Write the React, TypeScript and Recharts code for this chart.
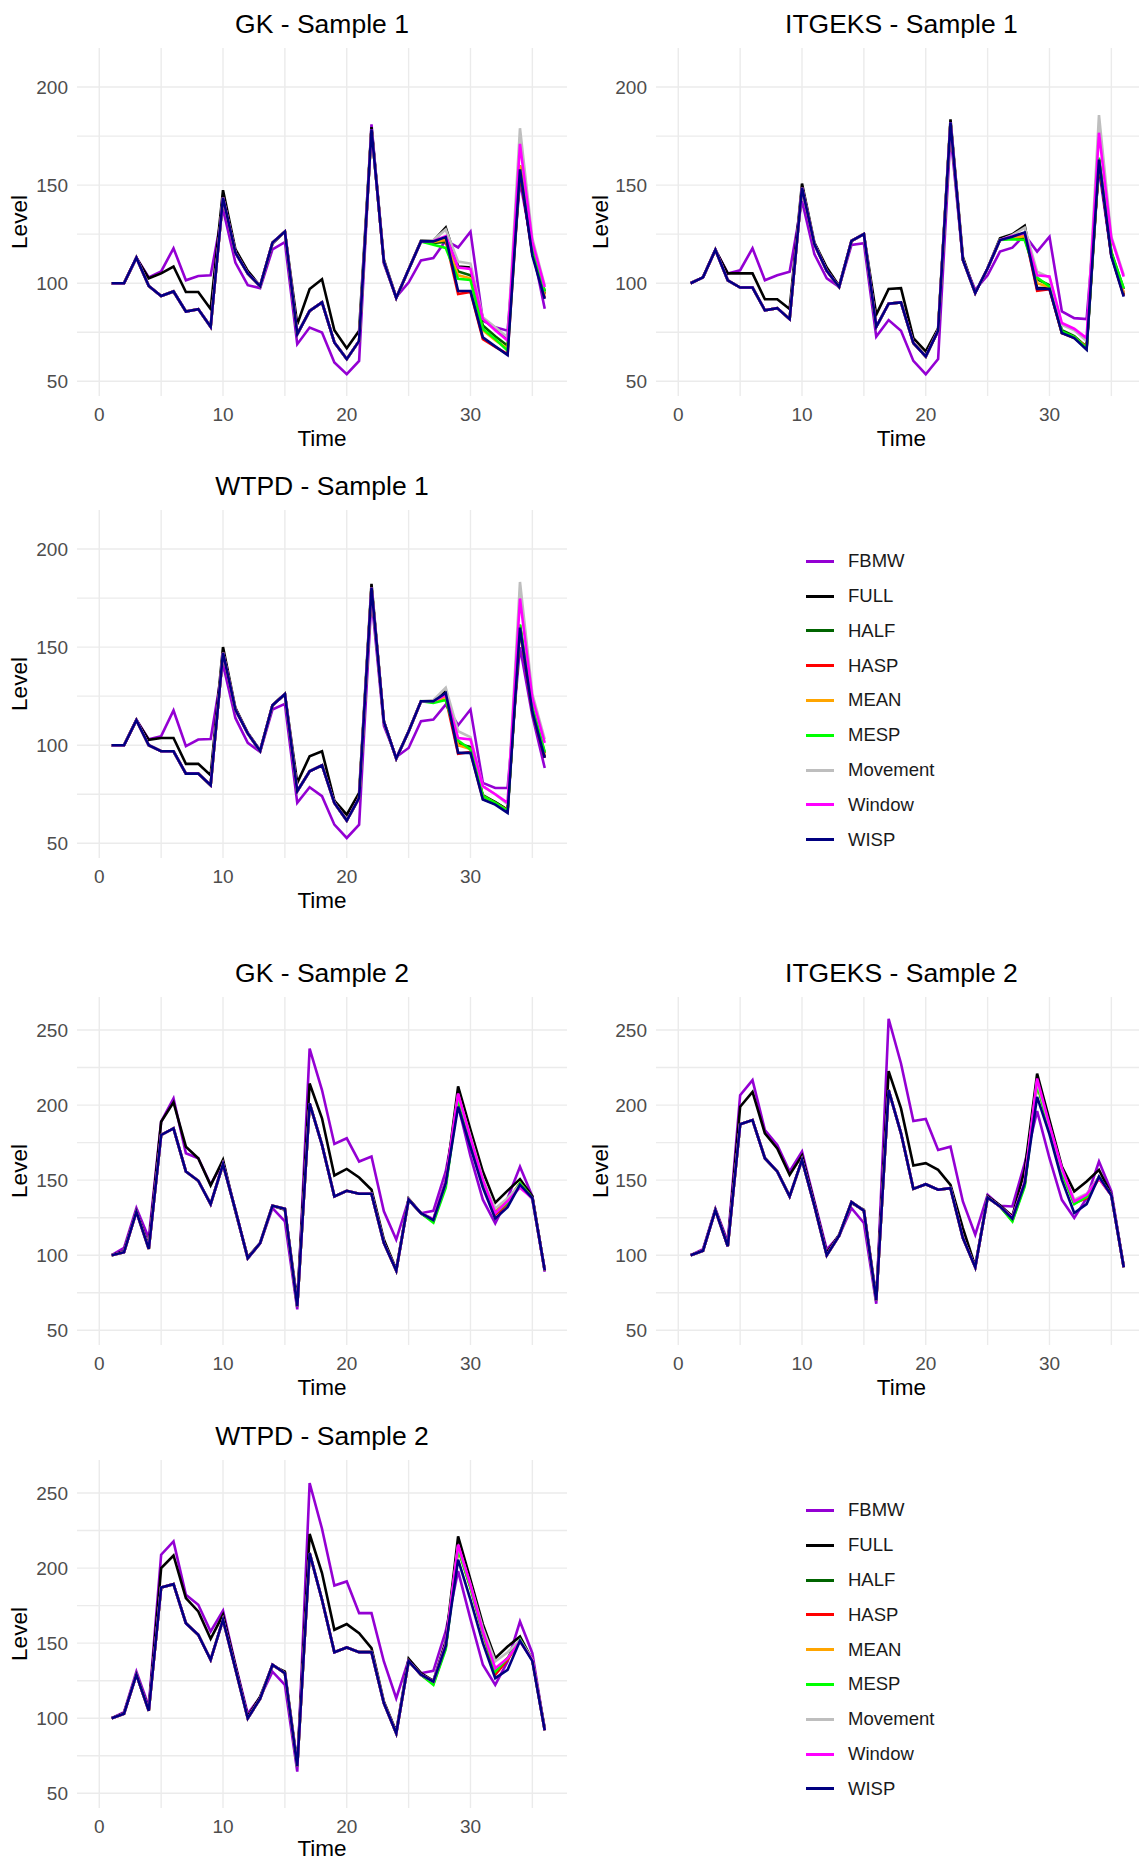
import React from 'react';
import { LineChart, Line, XAxis, YAxis, CartesianGrid } from 'recharts';

// time index shared by every panel
const time = [1, 2, 3, 4, 5, 6, 7, 8, 9, 10, 11, 12, 13, 14, 15, 16, 17, 18, 19, 20, 21, 22, 23, 24, 25, 26, 27, 28, 29, 30, 31, 32, 33, 34, 35, 36];

const seriesNames = ['FBMW', 'FULL', 'HALF', 'HASP', 'MEAN', 'MESP', 'Movement', 'Window', 'WISP'];
const seriesColors = ['#9400D3', '#000000', '#006400', '#FF0000', '#FFA500', '#00FF00', '#BEBEBE', '#FF00FF', '#000080'];

const xGridValues = [0, 5, 10, 15, 20, 25, 30, 35];
const xTickValues = [0, 10, 20, 30];
const s1Ticks = [50, 100, 150, 200];
const s1Grid = [50, 75, 100, 125, 150, 175, 200];
const s2Ticks = [50, 100, 150, 200, 250];
const s2Grid = [50, 75, 100, 125, 150, 175, 200, 225, 250];

// ---- GK - Sample 1 ----
const gk1Fbmw = [100, 100, 113, 103, 106, 117.8, 101.5, 103.7, 104, 137.7, 110.5, 99, 97.5, 117.3, 121, 68.9, 77.4, 74.9, 59.6, 53.6, 60.4, 181, 110, 93, 100.3, 111.6, 112.8, 121.8, 118.2, 126.3, 81, 77.5, 75.8, 152, 118, 87];
const gk1Full = [100, 100, 113, 102.5, 105, 108.5, 95.5, 95.5, 86.8, 147.4, 117.3, 106.3, 98.6, 120.2, 126.3, 79, 97, 102, 76, 66.9, 75.7, 179.6, 112, 92.7, 107, 121.6, 121.6, 128.4, 108.5, 108, 81.8, 76.5, 72, 157, 115, 94.5];
const gk1Head = [100, 100, 113, 98.6, 93.5, 95.8, 85.6, 86.8, 77.8, 143.6, 115.6, 105, 98.5, 120.7, 126.3, 74, 85.9, 90.2, 69.8, 61.3, 70.6, 178.4, 111, 92.5, 107, 121.3];
const gk1WispTail = [121.3, 123.5, 96, 96, 72.4, 67.8, 63.4, 158, 114, 92];
const gk1HalfTail = [120.5, 121, 106, 104, 78.4, 73, 68.1, 160, 118, 96];
const gk1HaspTail = [121.3, 122, 94.5, 95.5, 71.5, 67.5, 63.9, 157, 115, 92.5];
const gk1MeanTail = [121, 122, 104, 102.5, 76, 71, 66.5, 160, 116, 94];
const gk1MespTail = [119.6, 118, 102.2, 101.7, 76.7, 71.5, 65.6, 158, 117.5, 95.7];
const gk1MoveTail = [122, 127.4, 111, 110, 82.6, 77.5, 72.4, 179, 122.7, 98.8];
const gk1WindowTail = [121.5, 124, 108, 107.3, 81.8, 76, 70.7, 171, 121, 98];

// ---- ITGEKS - Sample 1 ----
const it1Fbmw = [100, 103, 117, 105, 106.6, 117.8, 101.5, 104, 105.8, 141.9, 114.8, 102.5, 98.1, 119.5, 120.4, 72.8, 81.2, 75.7, 60.4, 53.6, 61.3, 176, 112, 96.6, 104, 116.1, 118.1, 124.6, 116.1, 123.7, 85.6, 82.2, 81.7, 158, 114, 95];
const it1Full = [100, 103, 117, 105, 105, 105, 91.8, 91.8, 86.8, 150.8, 120.7, 108, 98.6, 121.6, 125, 84, 97.1, 97.5, 72, 65.3, 77, 183.5, 113.4, 95, 107.6, 122.9, 124.9, 129.3, 97.5, 97.5, 74.6, 72.7, 66.4, 161.5, 114.4, 94];
const it1Head = [100, 103, 117, 101.5, 97.8, 97.8, 86.2, 87.3, 81.7, 148.7, 119.9, 106.3, 98.1, 121.6, 125, 77.8, 89.6, 90.2, 69.5, 62.7, 75.8, 182, 112, 95, 107.6, 122];
const it1WispTail = [123.7, 125.9, 97.1, 97.1, 74.6, 72, 66.1, 163, 113.6, 93.2];
const it1HalfTail = [123, 123, 102, 99, 76, 73, 67.5, 163, 116, 97];
const it1HaspTail = [123.7, 125.5, 96.1, 97, 74.6, 72, 67.8, 163, 114, 93.5];
const it1MeanTail = [123, 124, 100, 98, 75, 72.5, 67, 163, 115, 95];
const it1MespTail = [122.4, 122, 102.9, 98.3, 75.4, 72.5, 67, 164, 115.3, 97.5];
const it1MoveTail = [124.5, 128.3, 105.9, 102.9, 78.8, 76, 70.5, 185.7, 123.7, 104.2];
const it1WindowTail = [124, 125.5, 104, 103.4, 79.7, 76.8, 72, 176.7, 122.9, 103.4];

// ---- WTPD - Sample 1 ----
const wt1Fbmw = [100, 100, 113, 103, 104.6, 117.7, 99.5, 102.9, 103.2, 141.2, 113.9, 101.2, 96.6, 118.2, 121.1, 70.6, 78.6, 74, 59.5, 52.7, 59.5, 175, 110, 94, 98.6, 112.2, 113.1, 120.7, 110.2, 118.2, 80.8, 78.2, 78.2, 150, 115, 88.4];
const wt1Full = [100, 100, 112.8, 102.7, 103.7, 103.7, 90.5, 90.5, 84.7, 150, 119, 106.3, 97.3, 120.4, 126.2, 80.8, 94.4, 96.9, 71.8, 64.6, 75.7, 182.3, 112.2, 93.2, 107.1, 122.4, 122.4, 127.6, 100, 99, 74, 71, 67, 160, 118, 94];
const wt1Head = [100, 100, 112.8, 100, 96.9, 96.9, 85.5, 85.5, 79.6, 147.1, 118.2, 106, 97, 120.4, 126, 76.5, 86.7, 89.8, 70.6, 61.6, 73.1, 180.3, 112, 93.2, 107, 122.4];
const wt1WispTail = [122.4, 126.7, 96.1, 96.1, 72.3, 69.7, 65.5, 159.9, 117, 93.5];
const wt1HalfTail = [122, 124, 101, 99, 74.5, 71, 67, 161, 119, 96];
const wt1HaspTail = [122.4, 124, 95.6, 96.5, 72.5, 70, 67, 160, 117, 93.5];
const wt1MeanTail = [122, 124.5, 100, 98, 74, 70.5, 66.5, 161, 118, 95];
const wt1MespTail = [121.5, 123, 102.4, 97.8, 74, 70.5, 66.5, 161.6, 119, 96.6];
const wt1MoveTail = [123, 129.3, 107.1, 104.1, 79, 75, 70, 183.2, 126, 103];
const wt1WindowTail = [122.5, 125.5, 103.7, 102.9, 79.1, 75, 70.6, 174.8, 124, 101.2];

// ---- GK - Sample 2 ----
const gk2Fbmw = [100, 104.9, 131.4, 111.5, 189, 204.4, 167.9, 164.6, 147, 162, 130, 98, 108, 131.4, 122.6, 63.9, 237.6, 210, 174.1, 177.9, 162.4, 165.7, 129.2, 110.4, 137, 128, 129.6, 155.8, 200, 166, 137, 121.2, 137.9, 158.9, 139.2, 89];
const gk2Full = [100, 102.7, 129.2, 106, 188.9, 201.8, 172.3, 164.6, 146.5, 163.5, 129.2, 98.7, 108.2, 133, 130.3, 69.5, 214.4, 191.2, 153.1, 157.5, 151.8, 143.6, 110.4, 90.5, 137.6, 128.1, 123.7, 149.1, 212.5, 183.5, 155.7, 135, 143, 150.7, 139.2, 89.8];
const gk2Head = [100, 102, 129, 104.2, 180.1, 184.5, 155.8, 149.6, 134.1, 160.6, 130, 98, 108, 133, 131, 66, 201.1, 173.5, 139.2, 142.9, 140.9, 140.9, 108.2, 89.8, 137, 128];
const gk2WispTail = [123.4, 148, 199, 172, 145, 124.5, 132, 147, 138, 90];
const gk2HalfTail = [122.5, 147, 205, 178, 149, 129, 136, 148, 138, 90];
const gk2HaspTail = [123, 148, 204, 177, 148, 127, 134, 147, 138, 90];
const gk2MeanTail = [123, 148, 205, 178, 149, 129, 136, 148, 138, 90];
const gk2MespTail = [121.7, 145, 204, 177, 148, 128, 135, 148, 138, 90];
const gk2MoveTail = [124, 148, 207, 179, 151, 131.2, 138, 147, 137, 90];
const gk2WindowTail = [124, 149, 207.7, 178, 150, 128, 136, 145, 138, 90];

// ---- ITGEKS - Sample 2 ----
const it2Fbmw = [100, 104, 131, 109, 206.6, 216.6, 183.4, 173.5, 155.8, 169, 136, 103.8, 113, 131.4, 121.5, 67.7, 257.5, 227.7, 189.4, 190.7, 170.1, 172.3, 135.8, 113.7, 140.3, 133, 132.5, 161.3, 196, 164.6, 136.9, 124.8, 138, 162.4, 142.5, 92];
const it2Full = [100, 103.1, 130.3, 107.1, 198.9, 208.8, 181.2, 171.2, 153.5, 166.4, 134.7, 101.5, 113.7, 134.7, 130.3, 71.7, 222.6, 197.8, 159.7, 161.3, 156.9, 146.9, 118.1, 92.7, 139.2, 133.2, 125.9, 156.9, 221, 190, 159.1, 142.5, 149.1, 156.9, 140.3, 92.7];
const it2Head = [100, 103, 130, 106, 187.2, 190, 164.6, 155.8, 139.2, 163.5, 133, 100, 113, 135.4, 129.6, 70, 210, 181.2, 144.2, 147.3, 143.6, 144.7, 111.5, 92, 138.5, 132.5];
const it2WispTail = [124.3, 148, 205.5, 180.5, 150.2, 128.1, 134.1, 152.4, 140, 92];
const it2HalfTail = [123, 147, 215, 185, 156, 135, 139, 152, 140, 92];
const it2HaspTail = [124, 148, 214, 184, 155, 134.7, 138, 151, 140, 92];
const it2MeanTail = [123.5, 147.5, 215, 185, 156, 135, 139, 152, 140, 92];
const it2MespTail = [122.6, 145.8, 214, 184, 155, 134, 139, 152, 140, 92];
const it2MoveTail = [125, 149, 216, 186, 157, 137, 141, 152, 140, 92];
const it2WindowTail = [125, 149, 217.7, 186.7, 158, 135.8, 140.3, 151.3, 140, 92];

// ---- WTPD - Sample 2 ----
const wt2Fbmw = [100, 104, 131, 108, 208.9, 217.8, 182.2, 175.6, 157.8, 171.6, 136, 103, 114, 131, 122.2, 64.4, 256.7, 226.2, 188.4, 191.1, 170, 170, 137.8, 113.3, 139, 130, 131.6, 158, 198, 166, 135.6, 122.2, 137.8, 164.4, 143.3, 92];
const wt2Full = [100, 103.3, 128.9, 106, 200, 208.4, 180, 171.1, 152.9, 168.9, 135.1, 101.1, 114.4, 135.1, 131.1, 70, 222.7, 196.7, 158.9, 162.7, 156.7, 146.7, 111.1, 91.1, 139.6, 130, 124.9, 151.1, 221.1, 192.2, 162.7, 140, 147.8, 154.4, 138.9, 93.3];
const wt2Head = [100, 103, 129, 105, 187.1, 189.3, 163.3, 155.6, 138.9, 165.6, 133, 100, 113, 135.6, 130, 68, 210, 178.9, 144, 147.1, 144, 144, 110, 90, 138, 129];
const wt2WispTail = [124.4, 148, 205.6, 178.9, 150, 126.7, 132.2, 151.6, 138, 92];
const wt2HalfTail = [123, 147, 214, 188, 158, 132, 140, 152, 139, 92];
const wt2HaspTail = [123.5, 148, 213, 187, 157, 128.9, 139, 151.5, 139, 92];
const wt2MeanTail = [123, 147.5, 214, 188, 158, 132, 140, 152, 139, 92];
const wt2MespTail = [122.2, 146, 213, 187, 157, 131, 140, 152.5, 139, 92];
const wt2MoveTail = [124.5, 149, 215, 189, 160, 137.8, 144, 152, 139, 92];
const wt2WindowTail = [124.5, 149, 215.6, 188.9, 157.8, 133.3, 140, 151.1, 139, 92];

type SeriesMap = Record<string, number[]>;

// the splice methods coincide with WISP until t = 26
const withHead = (head: number[], fbmw: number[], full: number[], tails: number[][]): SeriesMap => ({
  FBMW: fbmw,
  FULL: full,
  HALF: [...head, ...tails[1]],
  HASP: [...head, ...tails[2]],
  MEAN: [...head, ...tails[3]],
  MESP: [...head, ...tails[4]],
  Movement: [...head, ...tails[5]],
  Window: [...head, ...tails[6]],
  WISP: [...head, ...tails[0]],
});

const gk1 = withHead(gk1Head, gk1Fbmw, gk1Full, [gk1WispTail, gk1HalfTail, gk1HaspTail, gk1MeanTail, gk1MespTail, gk1MoveTail, gk1WindowTail]);
const it1 = withHead(it1Head, it1Fbmw, it1Full, [it1WispTail, it1HalfTail, it1HaspTail, it1MeanTail, it1MespTail, it1MoveTail, it1WindowTail]);
const wt1 = withHead(wt1Head, wt1Fbmw, wt1Full, [wt1WispTail, wt1HalfTail, wt1HaspTail, wt1MeanTail, wt1MespTail, wt1MoveTail, wt1WindowTail]);
const gk2 = withHead(gk2Head, gk2Fbmw, gk2Full, [gk2WispTail, gk2HalfTail, gk2HaspTail, gk2MeanTail, gk2MespTail, gk2MoveTail, gk2WindowTail]);
const it2 = withHead(it2Head, it2Fbmw, it2Full, [it2WispTail, it2HalfTail, it2HaspTail, it2MeanTail, it2MespTail, it2MoveTail, it2WindowTail]);
const wt2 = withHead(wt2Head, wt2Fbmw, wt2Full, [wt2WispTail, wt2HalfTail, wt2HaspTail, wt2MeanTail, wt2MespTail, wt2MoveTail, wt2WindowTail]);

const toRows = (src: SeriesMap) =>
  time.map((t, i) => {
    const row: Record<string, number> = { t };
    seriesNames.forEach((n) => { row[n] = src[n][i]; });
    return row;
  });

const FONT = '"Liberation Sans", Arial, Helvetica, sans-serif';
const PLOT_W = 490;
const PLOT_H = 348;
const X_AXIS_H = 60;

interface PanelProps {
  title: string;
  src: SeriesMap;
  plotLeft: number;
  plotTop: number;
  yAxisW: number;
  levelX: number;
  sample: 1 | 2;
  timeShift?: number;
}

const Panel = ({ title, src, plotLeft, plotTop, yAxisW, levelX, sample, timeShift = 0 }: PanelProps) => {
  const rows = toRows(src);
  const yDomain = sample === 1 ? [42.5, 219.9] : [40.2, 272];
  const yTicks = sample === 1 ? s1Ticks : s2Ticks;
  const yGrid = sample === 1 ? s1Grid : s2Grid;
  const cx = plotLeft + PLOT_W / 2;
  return (
    <>
      <div style={{ position: 'absolute', left: cx - 300, width: 600, top: plotTop - 24 - 16, height: 32, lineHeight: '32px', textAlign: 'center', fontSize: 26.5, color: '#000' }}>
        {title}
      </div>
      <div style={{ position: 'absolute', left: levelX, top: plotTop + PLOT_H / 2, transform: 'translate(-50%, -50%) rotate(-90deg)', fontSize: 22.5, lineHeight: 1, whiteSpace: 'nowrap', color: '#000' }}>
        Level
      </div>
      <div style={{ position: 'absolute', left: cx - 100, width: 200, top: plotTop + PLOT_H + 43 - 13 - timeShift, height: 26, lineHeight: '26px', textAlign: 'center', fontSize: 22.5, color: '#000' }}>
        Time
      </div>
      <div style={{ position: 'absolute', left: plotLeft - yAxisW, top: plotTop }}>
        <LineChart width={yAxisW + PLOT_W} height={PLOT_H + X_AXIS_H} data={rows} margin={{ top: 0, right: 0, bottom: 0, left: 0 }}>
          <CartesianGrid stroke="#EBEBEB" strokeWidth={1.4} horizontalValues={yGrid} verticalValues={xGridValues} />
          <XAxis
            type="number"
            dataKey="t"
            domain={[-1.8, 37.8]}
            ticks={xTickValues}
            interval={0}
            allowDataOverflow
            axisLine={false}
            tickLine={false}
            tickSize={0}
            tickMargin={0}
            height={X_AXIS_H}
            tick={(p: any) => (
              <text x={p.x} y={p.y + 18} dy="0.35em" textAnchor="middle" fontSize={19} fill="#4D4D4D" fontFamily={FONT}>
                {p.payload.value}
              </text>
            )}
          />
          <YAxis
            type="number"
            domain={yDomain}
            ticks={yTicks}
            interval={0}
            allowDataOverflow
            axisLine={false}
            tickLine={false}
            tickSize={0}
            tickMargin={0}
            width={yAxisW}
            tick={(p: any) => (
              <text x={p.x - 9} y={p.y} dy="0.35em" textAnchor="end" fontSize={19} fill="#4D4D4D" fontFamily={FONT}>
                {p.payload.value}
              </text>
            )}
          />
          {seriesNames.map((n, i) => (
            <Line
              key={n}
              type="linear"
              dataKey={n}
              stroke={seriesColors[i]}
              strokeWidth={2.6}
              dot={false}
              activeDot={false}
              isAnimationActive={false}
            />
          ))}
        </LineChart>
      </div>
    </>
  );
};

const LegendBlock = ({ top }: { top: number }) => (
  <>
    {seriesNames.map((n, i) => (
      <div key={n} style={{ position: 'absolute', left: 806, top: top + i * 34.8 - 14, height: 28, display: 'flex', alignItems: 'center' }}>
        <div style={{ width: 28, height: 3, background: seriesColors[i] }} />
        <div style={{ marginLeft: 14, fontSize: 18.5, color: '#1a1a1a', lineHeight: '28px' }}>{n}</div>
      </div>
    ))}
  </>
);

const panels: PanelProps[] = [
  { title: 'GK - Sample 1', src: gk1, plotLeft: 77, plotTop: 47.5, yAxisW: 77, levelX: 20, sample: 1 },
  { title: 'ITGEKS - Sample 1', src: it1, plotLeft: 656.4, plotTop: 47.5, yAxisW: 86, levelX: 600.5, sample: 1 },
  { title: 'WTPD - Sample 1', src: wt1, plotLeft: 77, plotTop: 510.3, yAxisW: 77, levelX: 20, sample: 1 },
  { title: 'GK - Sample 2', src: gk2, plotLeft: 77, plotTop: 996.9, yAxisW: 77, levelX: 20, sample: 2 },
  { title: 'ITGEKS - Sample 2', src: it2, plotLeft: 656.4, plotTop: 996.9, yAxisW: 86, levelX: 600.5, sample: 2 },
  { title: 'WTPD - Sample 2', src: wt2, plotLeft: 77, plotTop: 1459.6, yAxisW: 77, levelX: 20, sample: 2, timeShift: 2 },
];

export default function App() {
  return (
    <div style={{ position: 'absolute', left: 0, top: 0, width: 1139, height: 1861, overflow: 'hidden', background: '#fff', fontFamily: FONT }}>
      {panels.map((p) => (
        <Panel key={p.title} {...p} />
      ))}
      <LegendBlock top={561.2} />
      <LegendBlock top={1510.4} />
    </div>
  );
}
